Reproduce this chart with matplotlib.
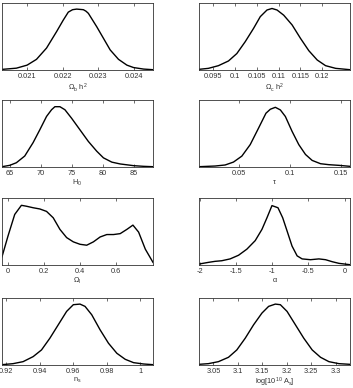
import numpy as np
import matplotlib
matplotlib.use("Agg")
import matplotlib.pyplot as plt

plt.rcParams['font.family'] = ['Liberation Sans', 'DejaVu Sans']
plt.rcParams['mathtext.fontset'] = 'custom'
plt.rcParams['mathtext.rm'] = 'Liberation Sans'
plt.rcParams['mathtext.it'] = 'Liberation Sans'

# marginal posteriors (peak normalised to ~1)
obh2_x = [0.020292, 0.020698, 0.021, 0.021264, 0.021547, 0.02183, 0.022019, 0.02216, 0.02228, 0.022396,
          0.022585, 0.02266, 0.022726, 0.022962, 0.023151, 0.02334, 0.023575, 0.023811, 0.024, 0.024283, 0.024547]
obh2_p = [0.01, 0.03, 0.08, 0.175, 0.36, 0.63, 0.82, 0.95, 0.99, 1.0,
          0.99, 0.965, 0.93, 0.71, 0.52, 0.33, 0.175, 0.08, 0.04, 0.015, 0.005]

och2_x = [0.09169, 0.09385, 0.09615, 0.09846, 0.10038, 0.10231, 0.10423, 0.10577, 0.10731, 0.10846,
          0.10962, 0.11115, 0.11308, 0.115, 0.11692, 0.11885, 0.12077, 0.12308, 0.12638]
och2_p = [0.011, 0.027, 0.071, 0.148, 0.27, 0.465, 0.684, 0.876, 0.985, 1.01,
          0.985, 0.90, 0.74, 0.52, 0.317, 0.164, 0.071, 0.027, 0.005]

h0_x = [63.76, 65.0, 66.08, 67.43, 68.78, 69.86, 70.95, 71.76, 72.30, 73.11, 73.92,
        75.0, 76.35, 77.70, 79.05, 80.14, 81.49, 82.84, 85.0, 86.62, 88.14]
h0_p = [0.005, 0.027, 0.07, 0.18, 0.40, 0.61, 0.83, 0.94, 0.99, 0.99, 0.94,
        0.80, 0.61, 0.42, 0.26, 0.15, 0.08, 0.05, 0.022, 0.011, 0.005]

tau_x = [0.01156, 0.0272, 0.03697, 0.04511, 0.05326, 0.0614, 0.06954, 0.07671, 0.08094, 0.08583,
         0.09072, 0.0956, 0.10212, 0.10863, 0.11515, 0.12166, 0.1298, 0.13795, 0.14772, 0.15847]
tau_p = [0.005, 0.016, 0.033, 0.081, 0.179, 0.368, 0.64, 0.883, 0.948, 0.98,
         0.937, 0.829, 0.585, 0.368, 0.206, 0.108, 0.054, 0.038, 0.027, 0.011]

ol_x = [-0.0334, 0.0, 0.0371, 0.0743, 0.1021, 0.1393, 0.1764, 0.2136, 0.2507, 0.2878, 0.325, 0.3621,
        0.3993, 0.4364, 0.4735, 0.5107, 0.5478, 0.585, 0.6221, 0.6592, 0.6927, 0.7242, 0.7614, 0.804]
ol_p = [0.135, 0.477, 0.83, 0.98, 0.965, 0.94, 0.92, 0.88, 0.775, 0.585, 0.45, 0.38,
        0.34, 0.325, 0.38, 0.46, 0.50, 0.50, 0.515, 0.585, 0.655, 0.54, 0.26, 0.043]

alpha_x = [-2.009, -1.880, -1.788, -1.695, -1.580, -1.464, -1.349, -1.234, -1.141, -1.072, -1.003, -0.920,
           -0.855, -0.795, -0.726, -0.656, -0.587, -0.472, -0.356, -0.264, -0.172, -0.079, 0.073]
alpha_p = [0.016, 0.043, 0.06, 0.07, 0.10, 0.16, 0.26, 0.40, 0.585, 0.775, 0.975, 0.94,
           0.775, 0.56, 0.31, 0.15, 0.10, 0.087, 0.10, 0.087, 0.054, 0.027, 0.005]

ns_x = [0.9174, 0.924, 0.93, 0.936, 0.941, 0.946, 0.951, 0.956, 0.96, 0.964,
        0.967, 0.971, 0.976, 0.981, 0.986, 0.991, 0.996, 1.002, 1.0076]
ns_p = [0.0055, 0.022, 0.055, 0.1375, 0.2475, 0.44, 0.66, 0.88, 0.99, 1.0,
        0.9625, 0.825, 0.5775, 0.3575, 0.1925, 0.0935, 0.0385, 0.0165, 0.0055]

las_x = [3.0205, 3.0397, 3.0603, 3.0808, 3.0979, 3.1151, 3.1322, 3.1493, 3.163, 3.1767,
         3.187, 3.2007, 3.2178, 3.2349, 3.2521, 3.2692, 3.2863, 3.3068, 3.3295]
las_p = [0.011, 0.022, 0.055, 0.1265, 0.2475, 0.44, 0.66, 0.8525, 0.9625, 1.0,
         0.99, 0.88, 0.66, 0.44, 0.2475, 0.1265, 0.055, 0.022, 0.011]

panels = [
    (obh2_x, obh2_p, r'$\Omega_b\ h^2$', [0.021, 0.022, 0.023, 0.024], ['0.021', '0.022', '0.023', '0.024']),
    (och2_x, och2_p, r'$\Omega_c\ h^2$', [0.095, 0.1, 0.105, 0.11, 0.115, 0.12], ['0.095', '0.1', '0.105', '0.11', '0.115', '0.12']),
    (h0_x, h0_p, r'$H_0$', [65, 70, 75, 80, 85], ['65', '70', '75', '80', '85']),
    (tau_x, tau_p, r'$\tau$', [0.05, 0.1, 0.15], ['0.05', '0.1', '0.15']),
    (ol_x, ol_p, r'$\Omega_l$', [0, 0.2, 0.4, 0.6], ['0', '0.2', '0.4', '0.6']),
    (alpha_x, alpha_p, r'$\alpha$', [-2, -1.5, -1, -0.5, 0], ['-2', '-1.5', '-1', '-0.5', '0']),
    (ns_x, ns_p, r'$n_s$', [0.92, 0.94, 0.96, 0.98, 1.0], ['0.92', '0.94', '0.96', '0.98', '1']),
    (las_x, las_p, r'$\log[10^{10}\ A_s]$', [3.05, 3.1, 3.15, 3.2, 3.25, 3.3], ['3.05', '3.1', '3.15', '3.2', '3.25', '3.3']),
]

W, H = 353, 388
fig = plt.figure(figsize=(W / 100, H / 100), dpi=100)

col_left = [2, 199]
row_top = [3, 100, 198, 298]
aw, ah = 151, 67

for i, (xs, ps, lab, ticks, tlabs) in enumerate(panels):
    r, c = i // 2, i % 2
    ax = fig.add_axes([col_left[c] / W, (H - row_top[r] - ah) / H, aw / W, ah / H])
    ax.plot(xs, ps, color='black', lw=1.0, solid_joinstyle='round')
    ax.set_xlim(xs[0], xs[-1])
    ax.set_ylim(0, 1.1)
    ax.set_yticks([])
    ax.set_xticks(ticks)
    ax.set_xticklabels(tlabs)
    ax.tick_params(axis='x', direction='in', top=True, length=2, width=0.5,
                   labelsize=5.3, pad=2.5, colors='#333333')
    for s in ax.spines.values():
        s.set_linewidth(0.6)
        s.set_color('#333333')
    ax.set_xlabel(lab, fontsize=5.3, labelpad=0.5, color='#333333')

fig.savefig('out.png', dpi=100)
